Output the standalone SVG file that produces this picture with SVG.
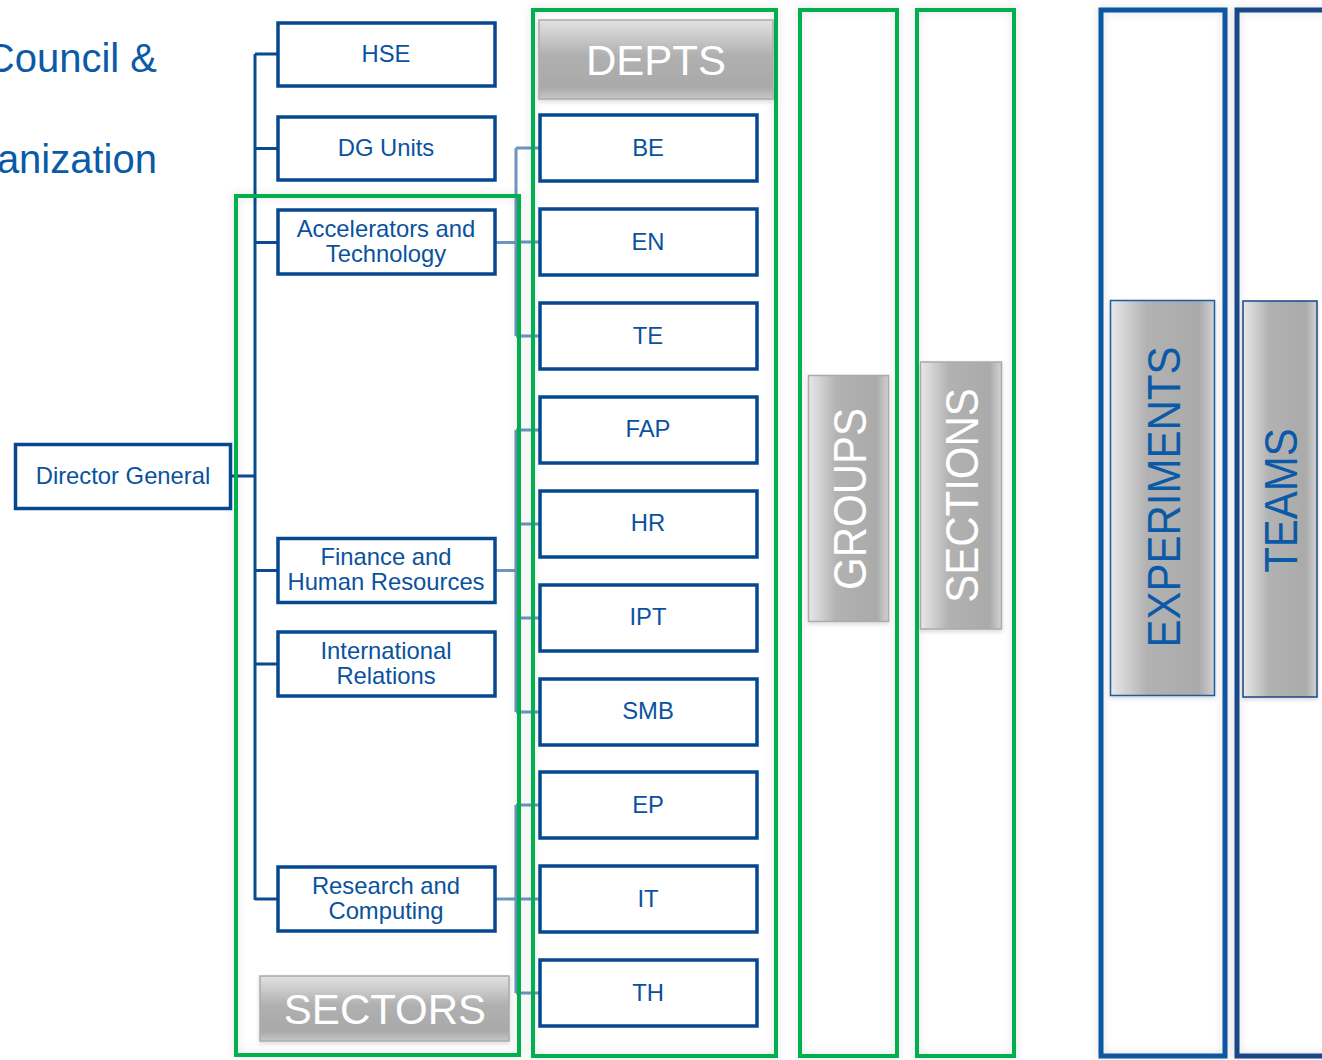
<svg xmlns="http://www.w3.org/2000/svg" width="1322" height="1060" viewBox="0 0 1322 1060">
<defs>
<style>
text{font-family:"Liberation Sans",Arial,sans-serif}
.title{font-size:40px;fill:#0B5AA8}
.box{fill:#fff;stroke:#06488F;stroke-width:3.5}
.bt{font-size:23.8px;fill:#0A529E;text-anchor:middle}
.green{fill:none;stroke:#00B050;stroke-width:4;filter:url(#glow)}
.trunk{fill:none;stroke:#0A4A8E;stroke-width:3}
.dconn{fill:none;stroke:#6F94C0;stroke-width:3}
.hdr{font-size:42px;fill:#fff;text-anchor:middle}
.vlab{font-size:42px;text-anchor:middle}
</style>
<filter id="glow" x="-20%" y="-5%" width="140%" height="110%">
<feDropShadow dx="0" dy="0" stdDeviation="4" flood-color="#000" flood-opacity="0.13"/>
</filter>
<filter id="sh" x="-10%" y="-10%" width="120%" height="130%">
<feDropShadow dx="0" dy="2" stdDeviation="2" flood-color="#000" flood-opacity="0.15"/>
</filter>
<linearGradient id="gv" x1="0" y1="0" x2="0" y2="1">
<stop offset="0" stop-color="#e2e2e2"/>
<stop offset="0.45" stop-color="#b0b0b0"/>
<stop offset="0.85" stop-color="#a9a9a9"/>
<stop offset="1" stop-color="#c8c8c8"/>
</linearGradient>
<linearGradient id="gh" x1="0" y1="0" x2="1" y2="0">
<stop offset="0" stop-color="#e8e8e8"/>
<stop offset="0.35" stop-color="#b2b2b2"/>
<stop offset="0.85" stop-color="#aaaaaa"/>
<stop offset="1" stop-color="#d2d2d2"/>
</linearGradient>
</defs>
<rect width="1322" height="1060" fill="#fff"/>

<g id="title">
<text class="title" x="157" y="72" text-anchor="end">Council &amp;</text>
<text class="title" x="157" y="173" text-anchor="end">anization</text>
</g>

<g id="connectors">
<path class="trunk" d="M255 54 V900 M255 54 H278 M255 148.5 H278 M255 242.5 H278 M255 570.5 H278 M255 664 H278 M255 899 H278 M232 476 H255"/>
<path class="dconn" d="M495 242.5 H516 M516 148 V336 M516 148 H540 M516 242 H540 M516 336 H540"/>
<path class="dconn" d="M495 570.5 H516 M516 430 V712 M516 430 H540 M516 524 H540 M516 618 H540 M516 712 H540"/>
<path class="dconn" d="M495 899 H516 M516 805 V993 M516 805 H540 M516 899 H540 M516 993 H540"/>
</g>

<g id="frames">
<rect id="sectors-frame" class="green" x="236" y="196" width="283" height="859"/>
<rect id="depts-frame" class="green" x="533" y="10" width="243" height="1046"/>
<rect id="groups-frame" class="green" x="800" y="10" width="97" height="1046"/>
<rect id="sections-frame" class="green" x="917" y="10" width="97" height="1046"/>
<rect id="experiments-frame" x="1101" y="10" width="124" height="1046" fill="none" stroke="#0A56A0" stroke-width="5" filter="url(#glow)"/>
<rect id="teams-frame" x="1237" y="10" width="110" height="1046" fill="none" stroke="#1A4686" stroke-width="5" filter="url(#glow)"/>
</g>

<g id="director-general"><rect class="box" x="15.5" y="444.5" width="215" height="64"/><text class="bt" x="123" y="484">Director General</text></g>

<g id="hse"><rect class="box" x="278" y="23" width="217" height="63"/><text class="bt" x="386" y="62">HSE</text></g>
<g id="dg-units"><rect class="box" x="278" y="117" width="217" height="63"/><text class="bt" x="386" y="156">DG Units</text></g>
<g id="accelerators"><rect class="box" x="278" y="210" width="217" height="64"/><text class="bt" x="386" y="237">Accelerators and</text><text class="bt" x="386" y="262">Technology</text></g>
<g id="finance"><rect class="box" x="278" y="538.5" width="217" height="64"/><text class="bt" x="386" y="565">Finance and</text><text class="bt" x="386" y="590">Human Resources</text></g>
<g id="international"><rect class="box" x="278" y="632" width="217" height="64"/><text class="bt" x="386" y="659">International</text><text class="bt" x="386" y="684">Relations</text></g>
<g id="research"><rect class="box" x="278" y="867" width="217" height="64"/><text class="bt" x="386" y="894">Research and</text><text class="bt" x="386" y="919">Computing</text></g>

<g id="sectors-label"><rect x="260" y="976" width="249" height="65" fill="url(#gv)" stroke="#aaa" stroke-width="1.5" filter="url(#sh)"/><text class="hdr" x="385" y="1024">SECTORS</text></g>
<g id="depts-label"><rect x="539" y="20" width="234" height="79" fill="url(#gv)" stroke="#aaa" stroke-width="1.5" filter="url(#sh)"/><text class="hdr" x="656" y="75">DEPTS</text></g>

<g id="be"><rect class="box" x="540" y="115" width="217" height="66"/><text class="bt" x="648" y="156">BE</text></g>
<g id="en"><rect class="box" x="540" y="209" width="217" height="66"/><text class="bt" x="648" y="250">EN</text></g>
<g id="te"><rect class="box" x="540" y="303" width="217" height="66"/><text class="bt" x="648" y="344">TE</text></g>
<g id="fap"><rect class="box" x="540" y="397" width="217" height="66"/><text class="bt" x="648" y="437">FAP</text></g>
<g id="hr"><rect class="box" x="540" y="491" width="217" height="66"/><text class="bt" x="648" y="531">HR</text></g>
<g id="ipt"><rect class="box" x="540" y="585" width="217" height="66"/><text class="bt" x="648" y="625">IPT</text></g>
<g id="smb"><rect class="box" x="540" y="679" width="217" height="66"/><text class="bt" x="648" y="719">SMB</text></g>
<g id="ep"><rect class="box" x="540" y="772" width="217" height="66"/><text class="bt" x="648" y="813">EP</text></g>
<g id="it"><rect class="box" x="540" y="866" width="217" height="66"/><text class="bt" x="648" y="907">IT</text></g>
<g id="th"><rect class="box" x="540" y="960" width="217" height="66"/><text class="bt" x="648" y="1001">TH</text></g>

<g id="groups-label"><rect x="808.5" y="375.5" width="80" height="246" fill="url(#gh)" stroke="#aaa" stroke-width="1.5" filter="url(#sh)"/><text class="vlab" fill="#fff" transform="translate(866 499) rotate(-90) scale(1 1.1)">GROUPS</text></g>
<g id="sections-label"><rect x="920.5" y="362" width="81" height="267" fill="url(#gh)" stroke="#aaa" stroke-width="1.5" filter="url(#sh)"/><text class="vlab" fill="#fff" transform="translate(978 495.5) rotate(-90) scale(1 1.1)">SECTIONS</text></g>
<g id="experiments-label"><rect x="1110.5" y="300.5" width="104" height="395" fill="url(#gh)" stroke="#1A5BA0" stroke-width="1.5" filter="url(#sh)"/><text class="vlab" fill="#0B5AA8" transform="translate(1180 497) rotate(-90) scale(1 1.1)">EXPERIMENTS</text></g>
<g id="teams-label"><rect x="1243" y="301" width="74" height="396" fill="url(#gh)" stroke="#1A4686" stroke-width="1.5" filter="url(#sh)"/><text class="vlab" fill="#0B5AA8" transform="translate(1297 500.5) rotate(-90) scale(1 1.1)">TEAMS</text></g>
</svg>
